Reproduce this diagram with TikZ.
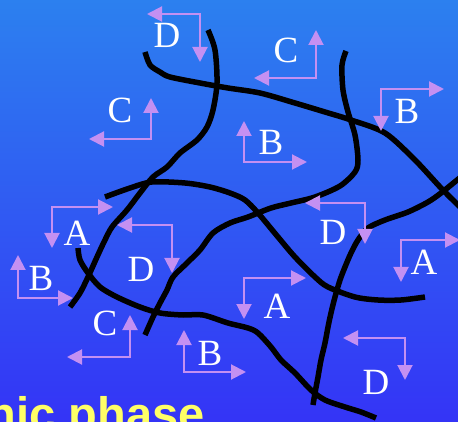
\documentclass[tikz,border=0pt]{standalone}
\usepackage{fontspec}
\setmainfont{Liberation Serif}
\newfontfamily\headfont{Liberation Sans}
\usepackage{tikz}
\usetikzlibrary{arrows.meta}
\definecolor{skyTop}{HTML}{2C80EF}
\definecolor{skyBot}{HTML}{3434F6}
\definecolor{dirLav}{HTML}{C490F2}
\definecolor{phaseYel}{HTML}{FFFF66}

\begin{document}
\begin{tikzpicture}[x=1pt,y=-1pt,
    wall/.style={black,line width=5.5pt,line join=round},
    dirarr/.style={draw=dirLav,line width=2pt,
      {Triangle[length=15pt,width=15pt]}-{Triangle[length=15pt,width=15pt]}},
    lbl/.style={text=white,inner sep=0pt,font=\fontsize{37}{40}\selectfont}]
  % background
  \shade[top color=skyTop,bottom color=skyBot] (0,0) rectangle (458,422);
  \useasboundingbox (0,0) rectangle (458,422);
  \clip (0,0) rectangle (458,422);

  % defect lines
  \draw[wall] plot[smooth,tension=0.5] coordinates {(145,52) (150,65) (160,72) (170,77)
    (200,83) (228,88) (260,93) (295,103) (325,112) (351,120) (385,133) (415,160) (441,188) (462,209)};
  \draw[wall] plot[smooth,tension=0.5] coordinates {(208,30) (215,50) (217,83) (213,110)
    (207,127) (197,140) (180,153) (167,167) (153,177) (140,193) (127,210) (112,227) (104,242)
    (97,257) (88,277) (80,293) (70,307)};
  \draw[wall] plot[smooth,tension=0.5] coordinates {(105,197) (130,188) (152,182) (185,183)
    (210,187) (230,193) (245,200) (258,213) (278,237) (295,257) (315,277) (328,287) (355,297)
    (378,300) (401,300) (425,297)};
  \draw[wall] plot[smooth,tension=0.5] coordinates {(346,51) (342,65) (343,90) (348,112)
    (355,135) (358,160) (355,172) (340,186) (315,197) (291,203) (271,208) (248,217) (230,223)
    (213,233) (200,250) (187,263) (173,277) (167,290) (160,303) (153,317) (145,335)};
  \draw[wall] plot[smooth,tension=0.5] coordinates {(462,176) (441,193) (428,202) (408,212)
    (385,220) (368,228) (358,240) (351,253) (345,267) (340,280) (335,297) (331,313) (328,327)
    (325,343) (321,360) (318,377) (315,393) (313,405)};
  \draw[wall] plot[smooth,tension=0.5] coordinates {(78,248) (80,260) (88,273) (100,287)
    (117,297) (140,307) (160,313) (183,315) (203,315) (228,323) (248,328) (258,333) (271,347)
    (281,360) (295,373) (311,390) (325,400) (345,407) (361,412) (376,418)};

  % director pairs
  \draw[dirarr] (147,14) -| (200,62);
  \node[lbl] (dTop) at (167,35) {D};
  \draw[dirarr] (89,139) -| (151,98);
  \node[lbl] (cLeft) at (120,110) {C};
  \draw[dirarr] (254,78) -| (316,30);
  \node[lbl] (cTop) at (286,50) {C};
  \draw[dirarr] (381,131) |- (444,89);
  \node[lbl] (bRight) at (407,111) {B};
  \draw[dirarr] (244,121) |- (307,162);
  \node[lbl] (bMid) at (271,142) {B};
  \draw[dirarr] (52,248) |- (113,207);
  \node[lbl] (aLeft) at (77,233) {A};
  \draw[dirarr] (18,255) |- (73,298);
  \node[lbl] (bLeft) at (41,278) {B};
  \draw[dirarr] (117,225) -| (172,273);
  \node[lbl] (dMidL) at (141,269) {D};
  \draw[dirarr] (67,357) -| (130,315);
  \node[lbl] (cLow) at (105,323) {C};
  \draw[dirarr] (184,330) |- (246,372);
  \node[lbl] (bLow) at (210,353) {B};
  \draw[dirarr] (305,203) -| (365,244);
  \node[lbl] (dMidR) at (333,232) {D};
  \draw[dirarr] (401,282) |- (460,240);
  \node[lbl] (aRight) at (424,262) {A};
  \draw[dirarr] (244,319) |- (306,278);
  \node[lbl] (aMid) at (277,306) {A};
  \draw[dirarr] (343,338) -| (405,380);
  \node[lbl] (dLow) at (376,382) {D};

  % caption, cut by the frame
  \node[anchor=base east,inner sep=0pt,text=phaseYel,
        font=\headfont\bfseries\fontsize{47}{50}\selectfont] (phase) at (205,430) {nic phase};
\end{tikzpicture}
\end{document}
